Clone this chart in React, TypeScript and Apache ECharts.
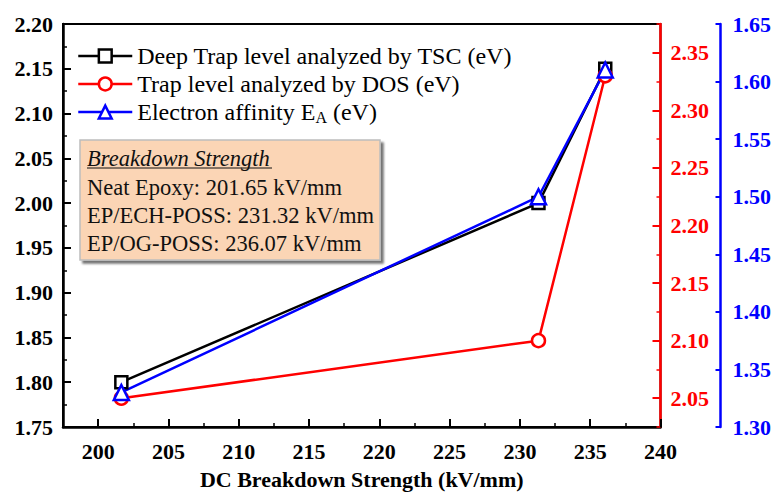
import { useEffect, useRef } from 'react';
import * as echarts from 'echarts';

const breakdown = [201.65, 231.32, 236.07];
const tscTrap = [1.8, 2.0, 2.15];
const dosTrap = [2.05, 2.1, 2.33];
const affinity = [1.33, 1.5, 1.61];
const xMajorTicks = [200, 205, 210, 215, 220, 225, 230, 235, 240];
const redMajorTicks = [2.05, 2.1, 2.15, 2.2, 2.25, 2.3, 2.35];
const seriesNames = [
  'Deep Trap level analyzed by TSC (eV)',
  'Trap level analyzed by DOS (eV)',
  'Electron affinity E_A (eV)',
];
const boxTitle = 'Breakdown Strength';
const boxLines = [
  'Neat Epoxy: 201.65 kV/mm',
  'EP/ECH-POSS: 231.32 kV/mm',
  'EP/OG-POSS: 236.07 kV/mm',
];
const xName = 'DC Breakdown Strength (kV/mm)';

const FONT = 'Liberation Serif';

export default function App() {
  const ref = useRef<HTMLDivElement>(null);
  useEffect(() => {
    if (!ref.current) return;
    const chart = echarts.init(ref.current, null, { renderer: 'svg' });
    const label = (color: string) => ({
      fontFamily: FONT,
      fontWeight: 'bold',
      fontSize: 22,
      color,
    });
    const mk = (ys: number[]) => breakdown.map((x, i) => [x, ys[i]]);
    chart.setOption({
      animation: false,
      textStyle: { fontFamily: FONT },
      grid: {
        left: 63,
        right: 112,
        top: 24,
        bottom: 60,
        show: true,
        borderColor: '#000',
        borderWidth: 2,
        backgroundColor: 'transparent',
      },
      legend: {
        orient: 'vertical',
        left: 72,
        top: 39,
        itemWidth: 54,
        itemHeight: 16,
        itemGap: 4,
        data: seriesNames,
        lineStyle: { width: 2.5 },
        itemStyle: { borderWidth: 2.5 },
        formatter: (name: string) => name.replace('E_A', 'E{sub|A}'),
        textStyle: {
          fontFamily: FONT,
          fontSize: 24,
          color: '#000',
          rich: {
            sub: {
              fontFamily: FONT,
              fontSize: 16,
              color: '#000',
              verticalAlign: 'bottom',
              padding: [10, 0, 0, 0],
            },
          },
        },
      },
      xAxis: [
        {
          type: 'value',
          min: 197.5,
          max: 240,
          interval: 2.5,
          position: 'bottom',
          axisLine: { show: true, lineStyle: { color: '#000', width: 2.5 } },
          axisTick: { show: true, inside: true, length: 4, lineStyle: { color: '#000', width: 1.5 } },
          axisLabel: { ...label('#000'), margin: 13, customValues: xMajorTicks },
          splitLine: { show: false },
          name: xName,
          nameLocation: 'middle',
          nameGap: 41,
          nameTextStyle: { fontFamily: FONT, fontWeight: 'bold', fontSize: 22, color: '#000' },
        },
        {
          type: 'value',
          min: 197.5,
          max: 240,
          position: 'bottom',
          axisLine: { show: false },
          axisTick: { show: true, inside: true, length: 8, customValues: xMajorTicks, lineStyle: { color: '#000', width: 2 } },
          axisLabel: { show: false },
          splitLine: { show: false },
        },
      ],
      yAxis: [
        {
          type: 'value',
          position: 'left',
          min: 1.75,
          max: 2.2,
          interval: 0.05,
          axisLine: { show: true, lineStyle: { color: '#000', width: 2.5 } },
          axisTick: { show: true, inside: true, length: 8, lineStyle: { color: '#000', width: 2 } },
          minorTick: { show: true, splitNumber: 2, length: 4, lineStyle: { color: '#000', width: 1.5 } },
          axisLabel: { ...label('#000'), margin: 10, formatter: (v: number) => v.toFixed(2) },
          splitLine: { show: false },
          minorSplitLine: { show: false },
        },
        {
          type: 'value',
          position: 'right',
          min: 2.025,
          max: 2.375,
          interval: 0.025,
          axisLine: { show: true, lineStyle: { color: '#ff0000', width: 2.5 } },
          axisTick: { show: true, inside: true, length: 4, lineStyle: { color: '#ff0000', width: 1.5 } },
          axisLabel: { ...label('#ff0000'), margin: 10, customValues: redMajorTicks, formatter: (v: number) => v.toFixed(2) },
          splitLine: { show: false },
        },
        {
          type: 'value',
          position: 'right',
          min: 2.025,
          max: 2.375,
          axisLine: { show: false },
          axisTick: { show: true, inside: true, length: 8, customValues: redMajorTicks, lineStyle: { color: '#ff0000', width: 2 } },
          axisLabel: { show: false },
          splitLine: { show: false },
        },
        {
          type: 'value',
          position: 'right',
          offset: 60,
          min: 1.3,
          max: 1.65,
          interval: 0.05,
          axisLine: { show: true, lineStyle: { color: '#0000ff', width: 2.5 } },
          axisTick: { show: true, inside: true, length: 5, lineStyle: { color: '#0000ff', width: 2 } },
          axisLabel: { ...label('#0000ff'), margin: 12, formatter: (v: number) => v.toFixed(2) },
          splitLine: { show: false },
        },
      ],
      series: [
        {
          name: seriesNames[0],
          type: 'line',
          xAxisIndex: 0,
          yAxisIndex: 0,
          data: mk(tscTrap),
          symbol: 'rect',
          symbolSize: 12,
          itemStyle: { color: '#fff', borderColor: '#000', borderWidth: 2.5 },
          lineStyle: { color: '#000', width: 2.5 },
          emphasis: { disabled: true },
        },
        {
          name: seriesNames[1],
          type: 'line',
          xAxisIndex: 0,
          yAxisIndex: 1,
          data: mk(dosTrap),
          symbol: 'circle',
          symbolSize: 13,
          itemStyle: { color: '#fff', borderColor: '#ff0000', borderWidth: 2.5 },
          lineStyle: { color: '#ff0000', width: 2.5 },
          emphasis: { disabled: true },
        },
        {
          name: seriesNames[2],
          type: 'line',
          xAxisIndex: 0,
          yAxisIndex: 3,
          data: mk(affinity),
          symbol: 'triangle',
          symbolSize: 15,
          itemStyle: { color: '#fff', borderColor: '#0000ff', borderWidth: 2.5 },
          lineStyle: { color: '#0000ff', width: 2.5 },
          emphasis: { disabled: true },
        },
      ],
      graphic: [
        {
          type: 'rect',
          x: 80,
          y: 140,
          shape: { width: 300, height: 120 },
          style: {
            fill: '#fbd5b5',
            stroke: '#bdbdbd',
            lineWidth: 1.5,
            shadowBlur: 2,
            shadowOffsetX: 3,
            shadowOffsetY: 3,
            shadowColor: 'rgba(0,0,0,0.55)',
          },
          z: 10,
        },
        {
          type: 'text',
          x: 87,
          y: 158,
          style: {
            text: boxTitle,
            fontFamily: FONT,
            fontStyle: 'italic',
            fontSize: 22.5,
            fill: '#111',
            verticalAlign: 'middle',
          },
          z: 11,
        },
        {
          type: 'line',
          shape: { x1: 87, y1: 168, x2: 272, y2: 168 },
          style: { stroke: '#111', lineWidth: 1 },
          z: 11,
        },
        ...boxLines.map((t, i) => ({
          type: 'text',
          x: 87,
          y: 187 + i * 28,
          style: {
            text: t,
            fontFamily: FONT,
            fontSize: 22.5,
            fill: '#111',
            verticalAlign: 'middle',
          },
          z: 11,
        })),
      ],
    });
    return () => chart.dispose();
  }, []);
  return (
    <div
      ref={ref}
      style={{ position: 'absolute', left: 0, top: 0, width: 774, height: 495, background: '#fff' }}
    />
  );
}
